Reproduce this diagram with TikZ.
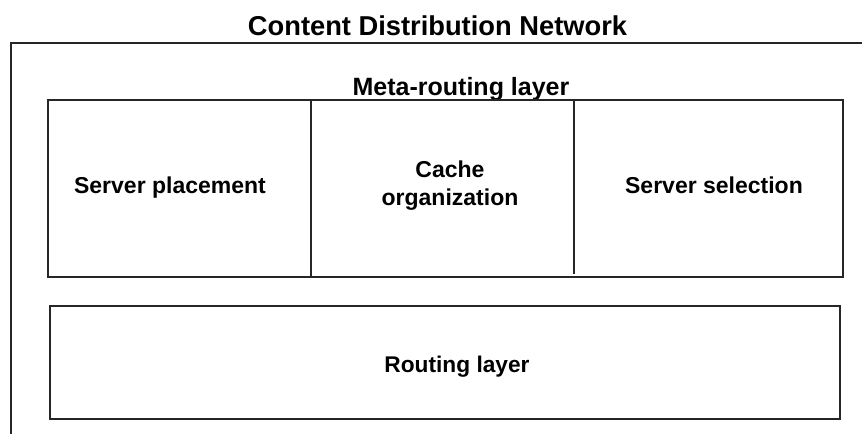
\documentclass[tikz,border=0pt]{standalone}
\usepackage{fontspec}
\setmainfont{Liberation Sans}
\begin{document}
\begin{tikzpicture}[x=1pt,y=-1pt,
  frame/.style={draw=black!85,line width=1.2pt},
  box/.style={frame,rectangle,inner sep=0pt},
  lbl/.style={font=\bfseries\fontsize{23}{28}\selectfont,inner sep=0pt,align=center}]
\useasboundingbox (0,0) rectangle (862,434);
% outer frame
\coordinate (tr) at (862,43);
\coordinate (tl) at (11,43);
\coordinate (bl) at (11,434);
\draw[frame] (tr) -- (tl) -- (bl);
\node[anchor=base,inner sep=0pt,font=\bfseries\fontsize{27.3}{32}\selectfont] (title) at (437.5,35) {Content Distribution Network};
% meta-routing layer
\node[anchor=base,inner sep=0pt,font=\bfseries\fontsize{25}{30}\selectfont] (metalbl) at (461,95) {Meta-routing layer};
\node[box,minimum width=795pt,minimum height=177pt] (meta) at (445.5,188.5) {};
\coordinate (d1t) at (311,100); \coordinate (d1b) at (311,277);
\coordinate (d2t) at (574,99); \coordinate (d2b) at (574,274);
\draw[frame] (d1t) -- (d1b);
\draw[frame] (d2t) -- (d2b);
\node[lbl,anchor=base] (place) at (170,193) {Server placement};
\node[lbl] (cache) at (450,186) {Cache\\organization};
\node[lbl,anchor=base] (select) at (714,193) {Server selection};
% routing layer
\node[box,minimum width=790pt,minimum height=113pt] (routing) at (445,362.5) {};
\node[lbl,anchor=base,font=\bfseries\fontsize{22.7}{27}\selectfont] (routlbl) at (457,372) {Routing layer};
\end{tikzpicture}
\end{document}
